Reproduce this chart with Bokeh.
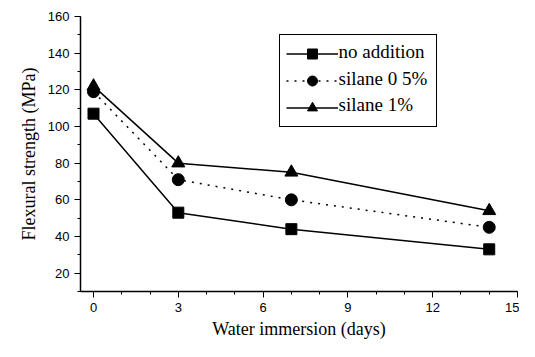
from bokeh.plotting import figure
from bokeh.models import Range1d, Legend, LegendItem, FixedTicker, Label
from bokeh.embed import file_html
from bokeh.resources import INLINE

days = [0, 3, 7, 14]
no_addition = [107, 53, 44, 33]
silane_05 = [119, 71, 60, 45]
silane_1 = [122, 80, 75, 54]
series_names = ["no addition", "silane 0 5%", "silane 1%"]
x_ticks = [0, 3, 6, 9, 12, 15]
y_ticks = [20, 40, 60, 80, 100, 120, 140, 160]

p = figure(width=519, height=341, output_backend="svg", toolbar_location=None,
           x_range=Range1d(-0.46, 15), y_range=Range1d(10, 160),
           min_border_left=80, min_border_right=2, min_border_top=16, min_border_bottom=42)
p.outline_line_color = None
p.xgrid.visible = False
p.ygrid.visible = False

l1 = p.line(days, no_addition, line_color="black", line_width=1.5)
m1 = p.scatter(days, no_addition, marker="square", size=11, color="black")
l2 = p.line(days, silane_05, line_color="black", line_width=1.5, line_dash="2 6")
m2 = p.scatter(days, silane_05, marker="circle", size=12, color="black")
l3 = p.line(days, silane_1, line_color="black", line_width=1.5)
m3 = p.scatter(days, silane_1, marker="triangle", size=13, color="black")

# legend box with glyphs; labels drawn as serif Label annotations
legend = Legend(items=[
    LegendItem(label=" ", renderers=[l1, m1]),
    LegendItem(label=" ", renderers=[l2, m2]),
    LegendItem(label=" ", renderers=[l3, m3]),
], location=(199, 164))
legend.border_line_color = "black"
legend.border_line_alpha = 1
legend.border_line_width = 1
legend.glyph_width = 52
legend.glyph_height = 25
legend.label_height = 25
legend.label_width = 92
legend.label_standoff = 0
legend.spacing = 2
legend.padding = 6
legend.label_text_font_size = "12px"
legend.background_fill_alpha = 0
p.add_layout(legend, "center")

# label positions (layout, in data units of the frame)
label_x = 8.67
label_y = [140.65, 126.3, 112.0]
for name, ly in zip(series_names, label_y):
    p.add_layout(Label(x=label_x, y=ly, text=name, text_font="Liberation Serif",
                       text_font_size="19px", text_baseline="middle",
                       text_align="left", text_color="black", level="overlay"))

for ax in (p.xaxis, p.yaxis):
    ax.axis_line_color = "black"
    ax.axis_line_width = 1.5
    ax.major_tick_line_color = "black"
    ax.minor_tick_line_color = "black"
    ax.major_tick_out = 6
    ax.major_tick_in = 0
    ax.minor_tick_out = 3
    ax.minor_tick_in = 0
    ax.major_label_text_font = "Liberation Sans"
    ax.major_label_text_font_size = "13px"
    ax.major_label_text_color = "black"
    ax.axis_label_text_font = "Liberation Serif"
    ax.axis_label_text_font_style = "normal"
    ax.axis_label_text_font_size = "18px"
    ax.axis_label_text_color = "black"

p.xaxis.ticker = FixedTicker(ticks=x_ticks, minor_ticks=list(range(0, 16)))
p.yaxis.ticker = FixedTicker(ticks=y_ticks, minor_ticks=list(range(10, 161, 10)))
p.xaxis.axis_label = "Water immersion (days)"
p.yaxis.axis_label = "Flexural strength (MPa)"
p.xaxis.axis_label_standoff = 4
p.yaxis.axis_label_standoff = 6

open("out.html", "w").write(file_html(p, INLINE))
